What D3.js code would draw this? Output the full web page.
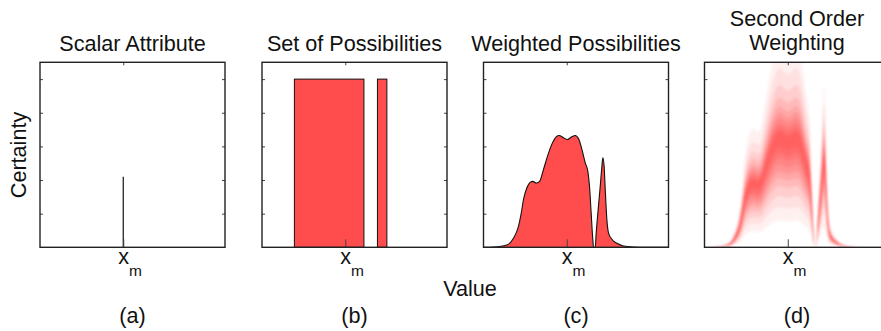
<!DOCTYPE html>
<html>
<head>
<meta charset="utf-8">
<script src="https://cdn.jsdelivr.net/npm/d3@7"></script>
<style>
  html, body { margin: 0; padding: 0; background: #fff; }
  svg { display: block; }
  text { font-family: "Liberation Sans", Arial, Helvetica, sans-serif; fill: #111; }
</style>
</head>
<body>
<svg id="chart" width="881" height="331"></svg>
<script>
// ---- data -------------------------------------------------------------
const panelTitles = [["Scalar Attribute"], ["Set of Possibilities"], ["Weighted Possibilities"], ["Second Order", "Weighting"]];
const panelLetters = ["(a)", "(b)", "(c)", "(d)"];
const certaintyTicks = [0.2, 0.4, 0.6, 0.8, 1.0];
const xm = 0.45;                 // measured value position on the value axis
const scalarCertainty = 0.42;    // (a) single value with its certainty

// (b) intervals of possible values, all fully possible
const possibleStart = [0.175, 0.624];
const possibleEnd   = [0.551, 0.675];
const possibleLevel = [1.0, 1.0];

// (c) weighting curve over the value axis
const weightX = [0, 0.054, 0.126, 0.162, 0.189, 0.204, 0.216, 0.234, 0.252, 0.267, 0.285, 0.303,
  0.324, 0.346, 0.369, 0.393, 0.409, 0.432, 0.454, 0.477, 0.495, 0.514, 0.532, 0.550, 0.564,
  0.573, 0.582, 0.591, 0.595, 0.604, 0.609, 0.618, 0.631, 0.640, 0.645, 0.652, 0.659, 0.667,
  0.676, 0.694, 0.721, 0.757, 0.811, 0.883, 1.0];
const weightY = [0, 0.002, 0.014, 0.054, 0.124, 0.203, 0.283, 0.353, 0.386, 0.392, 0.382, 0.392,
  0.462, 0.542, 0.612, 0.657, 0.665, 0.651, 0.641, 0.657, 0.665, 0.645, 0.582, 0.502, 0.452,
  0.363, 0.203, 0.044, 0, 0, 0.084, 0.203, 0.363, 0.482, 0.532, 0.482, 0.323, 0.163,
  0.084, 0.048, 0.024, 0.008, 0.002, 0, 0];

// (d) spread of the weighting: nested bands of scale factors applied to the curve
const bandLow  = [0.24, 0.36, 0.46, 0.55, 0.62, 0.68, 0.74, 0.80, 0.85, 0.90];
const bandHigh = [1.80, 1.60, 1.45, 1.34, 1.26, 1.20, 1.15, 1.10, 1.06, 1.03];

// ---- layout -----------------------------------------------------------
const svg = d3.select("#chart");
const red = "#ff4d4d";
const boxLefts = [40, 262, 483.5, 704.5];
const boxW = 185, boxTop = 62.3, boxBottom = 247.3;
const fontSize = 21.6;

const y = d3.scaleLinear().domain([0, 1.1]).range([boxBottom, boxTop]);
// inner bands are drawn more opaque so the weighting fades outwards
const bandOpacity = d3.scaleLinear().domain([0, bandLow.length - 1]).range([0.08, 0.3]);

const defs = svg.append("defs");
defs.append("filter").attr("id", "soft")
  .attr("x", "-10%").attr("y", "-10%").attr("width", "120%").attr("height", "120%")
  .append("feGaussianBlur").attr("stdDeviation", 1.3);

const weightPts = weightX.map((x, i) => ({ x, v: weightY[i] }));

boxLefts.forEach((left, p) => {
  const x = d3.scaleLinear().domain([0, 1]).range([left, left + boxW]);
  const g = svg.append("g");
  const cx = left + boxW / 2;

  defs.append("clipPath").attr("id", "clip" + p)
    .append("rect").attr("x", left).attr("y", boxTop).attr("width", boxW).attr("height", boxBottom - boxTop);

  const plot = g.append("g").attr("clip-path", `url(#clip${p})`);

  if (p === 0) {
    plot.append("line")
      .attr("x1", x(xm)).attr("x2", x(xm))
      .attr("y1", y(0)).attr("y2", y(scalarCertainty))
      .attr("stroke", "#111").attr("stroke-width", 1.2);
  } else if (p === 1) {
    plot.selectAll("rect.poss").data(possibleStart).join("rect")
      .attr("class", "poss")
      .attr("x", (d) => x(d))
      .attr("width", (d, i) => x(possibleEnd[i]) - x(d))
      .attr("y", (d, i) => y(possibleLevel[i]))
      .attr("height", (d, i) => y(0) - y(possibleLevel[i]))
      .attr("fill", red).attr("stroke", "#111").attr("stroke-width", 1);
  } else if (p === 2) {
    const area = d3.area().x((d) => x(d.x)).y0(y(0)).y1((d) => y(d.v)).curve(d3.curveMonotoneX);
    const line = d3.line().x((d) => x(d.x)).y((d) => y(d.v)).curve(d3.curveMonotoneX);
    plot.append("path").datum(weightPts).attr("d", area).attr("fill", red);
    plot.append("path").datum(weightPts).attr("d", line)
      .attr("fill", "none").attr("stroke", "#111").attr("stroke-width", 1.1);
  } else {
    const heat = plot.append("g").attr("filter", "url(#soft)");
    bandLow.forEach((lo, j) => {
      const hi = bandHigh[j];
      const band = d3.area()
        .x((d) => x(d.x))
        .y0((d) => y(lo * d.v))
        .y1((d) => y(hi * d.v))
        .curve(d3.curveMonotoneX);
      heat.append("path").datum(weightPts).attr("d", band)
        .attr("fill", red).attr("fill-opacity", bandOpacity(j));
    });
  }

  // axes: inward ticks, no labels
  const tickCol = "#444";
  const styleAxis = (sel) => {
    sel.select(".domain").remove();
    sel.selectAll(".tick line").attr("stroke", tickCol).attr("stroke-width", 1);
    sel.selectAll(".tick text").remove();
  };
  g.append("g").attr("transform", `translate(${left},0)`)
    .call(d3.axisLeft(y).tickValues(certaintyTicks).tickSize(-3)).call(styleAxis);
  g.append("g").attr("transform", `translate(${left + boxW},0)`)
    .call(d3.axisRight(y).tickValues(certaintyTicks).tickSize(-3)).call(styleAxis);
  g.append("g").attr("transform", `translate(0,${boxTop})`)
    .call(d3.axisTop(x).tickValues([xm]).tickSize(-3)).call(styleAxis);
  g.append("g").attr("transform", `translate(0,${boxBottom})`)
    .call(d3.axisBottom(x).tickValues([xm]).tickSize(-8)).call(styleAxis);

  g.append("rect")
    .attr("x", left).attr("y", boxTop).attr("width", boxW).attr("height", boxBottom - boxTop)
    .attr("fill", "none").attr("stroke", "#222").attr("stroke-width", 1.4);

  // x_m label
  const lab = g.append("text").attr("x", x(xm) - 5).attr("y", 264)
    .attr("font-size", fontSize);
  lab.append("tspan").text("x");
  lab.append("tspan").attr("dy", 12).attr("font-size", 15.5).text("m");

  // title
  const lines = panelTitles[p];
  const baseY = lines.length === 1 ? [51] : [25.5, 50];
  lines.forEach((t, i) => {
    g.append("text").attr("x", cx).attr("y", baseY[i]).attr("text-anchor", "middle")
      .attr("font-size", fontSize).text(t);
  });

  g.append("text").attr("x", cx).attr("y", 323).attr("text-anchor", "middle")
    .attr("font-size", fontSize).text(panelLetters[p]);
});

svg.append("text").attr("transform", "translate(26,155) rotate(-90)")
  .attr("text-anchor", "middle").attr("font-size", fontSize).text("Certainty");
svg.append("text").attr("x", 470).attr("y", 296).attr("text-anchor", "middle")
  .attr("font-size", fontSize).text("Value");
</script>
</body>
</html>
